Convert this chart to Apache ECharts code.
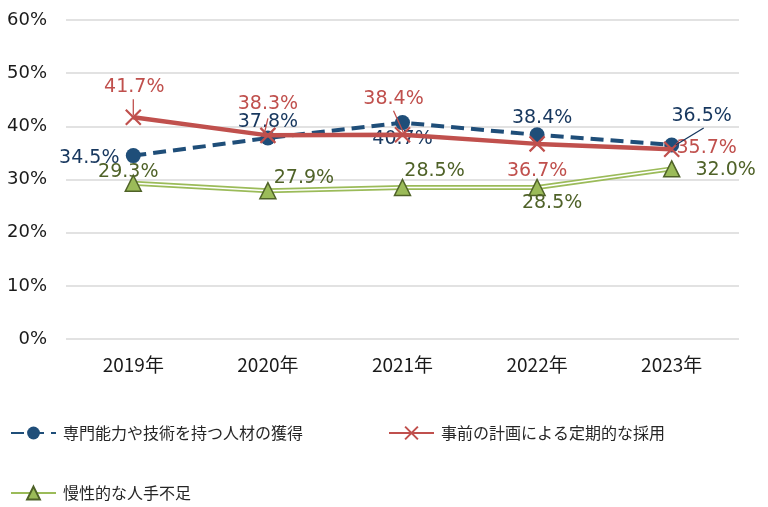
<!DOCTYPE html>
<html>
<head>
<meta charset="utf-8">
<script src="https://cdn.jsdelivr.net/npm/echarts@6/dist/echarts.min.js"></script>
<style>html,body{margin:0;padding:0;background:#fff;}#c{width:768px;height:507px;}</style>
</head>
<body>
<div id="c"></div>
<script>
var categories = ['2019年', '2020年', '2021年', '2022年', '2023年'];
var seriesNames = ['専門能力や技術を持つ人材の獲得', '事前の計画による定期的な採用', '慢性的な人手不足'];
var skillValues = [34.5, 37.8, 40.7, 38.4, 36.5];
var plannedValues = [41.7, 38.3, 38.4, 36.7, 35.7];
var shortageValues = [29.3, 27.9, 28.5, 28.5, 32.0];

// label placement (styling, not data): offset of label centre from its point
var skillOffsets = [[-44, 2], [0, -16], [0, 16], [5, -17], [30, -29]];
var plannedOffsets = [[1, -30], [0, -31], [-9, -36], [0, 27], [35, -1]];
var shortageOffsets = [[-5, -11], [36, -13], [32, -16], [15, 16], [54, 1]];
// leader lines (styling): which point, pixel offsets of the two ends from the point
var leaders = [
  { values: 'planned', i: 0, from: [0, -18], to: [0, -2], color: '#C0504D' },
  { values: 'planned', i: 1, from: [0, -17], to: [-4, 0], color: '#C0504D' },
  { values: 'planned', i: 2, from: [-9, -24], to: [1, -2], color: '#C0504D' },
  { values: 'skill', i: 4, from: [32, -17], to: [4, 0], color: '#17375E' }
];

var BLUE = '#1F4E79', RED = '#C0504D', GREEN = '#9BBB59', DGREEN = '#4F6228';
var labelFont = "'DejaVu Sans', Verdana, sans-serif";
var valueSets = { skill: skillValues, planned: plannedValues, shortage: shortageValues };

function layoutFn(offs) {
  return function (p) {
    var o = offs[p.dataIndex];
    var r = p.labelRect, e = p.rect;
    var cx = e.x + e.width / 2, cy = e.y + e.height / 2;
    return { x: cx + o[0] - r.width / 2, y: cy + o[1] - r.height / 2, align: 'left', verticalAlign: 'top' };
  };
}
function lbl(color) {
  return { show: true, position: 'inside', color: color, fontFamily: labelFont, fontSize: 19,
    formatter: function (p) { return p.value.toFixed(1) + '%'; } };
}

var chart = echarts.init(document.getElementById('c'));
chart.setOption({
  animation: false,
  backgroundColor: '#fff',
  grid: { left: 66, right: 29, top: 20, bottom: 168 },
  legend: [
    { data: [seriesNames[0], seriesNames[1]], left: 5, top: 420, itemWidth: 45, itemHeight: 16, itemGap: 85,
      textStyle: { fontFamily: 'Noto Sans CJK JP', fontSize: 16, color: '#262626', padding: [0, 0, 0, 2] } },
    { data: [seriesNames[2]], left: 5, top: 480, itemWidth: 45, itemHeight: 16,
      textStyle: { fontFamily: 'Noto Sans CJK JP', fontSize: 16, color: '#262626', padding: [0, 0, 0, 2] } }
  ],
  xAxis: {
    type: 'category', data: categories, boundaryGap: true,
    axisLine: { show: false }, axisTick: { show: false },
    axisLabel: { fontFamily: 'Noto Sans CJK JP', fontSize: 19, color: '#1a1a1a', margin: 16 }
  },
  yAxis: {
    type: 'value', min: 0, max: 60, interval: 10,
    axisLine: { show: false }, axisTick: { show: false },
    axisLabel: { formatter: '{value}%', fontFamily: labelFont, fontSize: 18, color: '#1a1a1a', margin: 19 },
    splitLine: { lineStyle: { color: '#D9D9D9', width: 1.5 } }
  },
  series: [
    {
      name: seriesNames[0], type: 'line', data: skillValues, z: 3,
      symbol: 'circle', symbolSize: 15,
      lineStyle: { color: BLUE, width: 4, type: [13, 7] },
      itemStyle: { color: BLUE },
      label: lbl('#17375E'),
      labelLayout: layoutFn(skillOffsets)
    },
    {
      name: seriesNames[1], type: 'line', data: plannedValues, z: 4,
      symbol: 'path://M0,0L10,10M10,0L0,10', symbolSize: 15,
      lineStyle: { color: RED, width: 4.5 },
      itemStyle: { color: 'rgba(0,0,0,0)', borderColor: RED, borderWidth: 2.2 },
      label: lbl(RED),
      labelLayout: layoutFn(plannedOffsets)
    },
    {
      name: seriesNames[2], type: 'line', data: shortageValues, z: 2,
      symbol: 'triangle', symbolSize: 15, showSymbol: false,
      lineStyle: { color: GREEN, width: 5 },
      itemStyle: { color: GREEN, borderColor: DGREEN, borderWidth: 1.5 },
      silent: true
    },
    {
      name: 'inner', type: 'line', data: shortageValues, z: 2.1,
      symbol: 'none', lineStyle: { color: '#fff', width: 1.5 }, silent: true
    },
    {
      name: seriesNames[2], type: 'line', data: shortageValues, z: 2.2,
      symbol: 'triangle', symbolSize: 16,
      lineStyle: { width: 0, opacity: 0 },
      itemStyle: { color: GREEN, borderColor: DGREEN, borderWidth: 1.5 },
      label: lbl(DGREEN),
      labelLayout: layoutFn(shortageOffsets)
    }
  ]
});

var graphics = leaders.map(function (L) {
  var pt = chart.convertToPixel({ xAxisIndex: 0, yAxisIndex: 0 }, [L.i, valueSets[L.values][L.i]]);
  return {
    type: 'line', z: 100, silent: true,
    shape: { x1: pt[0] + L.from[0], y1: pt[1] + L.from[1], x2: pt[0] + L.to[0], y2: pt[1] + L.to[1] },
    style: { stroke: L.color, lineWidth: 1.3 }
  };
});
chart.setOption({ graphic: graphics });
</script>
</body>
</html>
